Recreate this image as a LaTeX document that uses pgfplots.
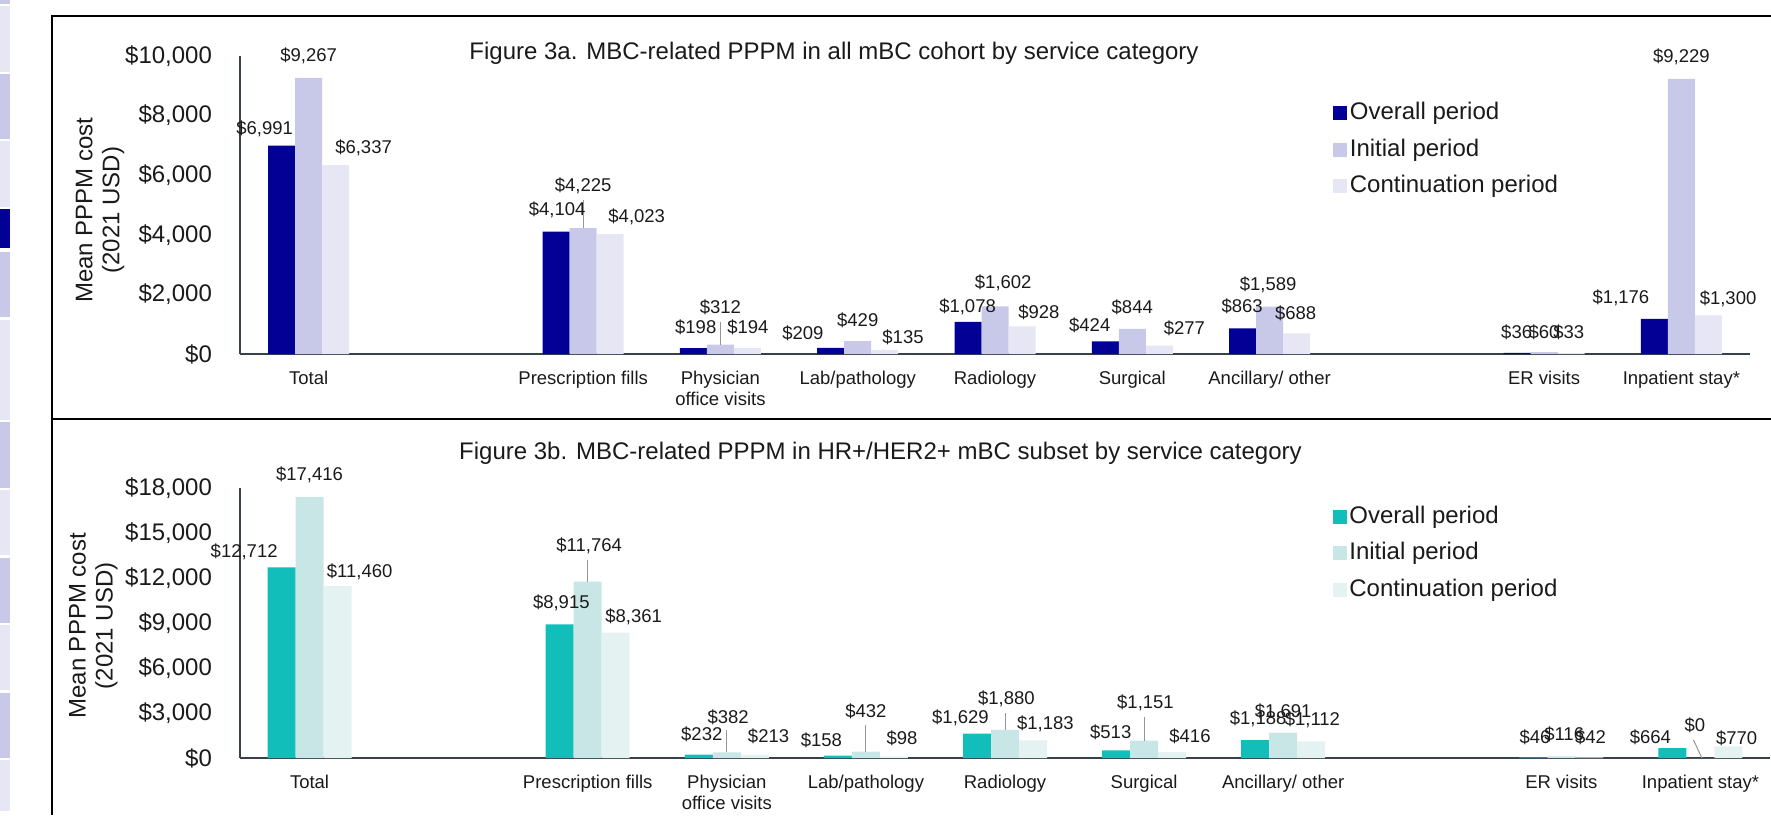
\documentclass[border=0pt]{standalone}
\usepackage{fontspec}
\setmainfont{Liberation Sans}
\usepackage{pgfplots}
\usepackage{pgfplotstable}
\pgfplotsset{compat=1.18}

\definecolor{navy}{RGB}{3,0,150}
\definecolor{lav}{RGB}{200,201,233}
\definecolor{lavl}{RGB}{230,230,245}
\definecolor{teal1}{RGB}{18,190,185}
\definecolor{teal2}{RGB}{201,230,230}
\definecolor{teal3}{RGB}{229,242,242}
\definecolor{axisc}{RGB}{55,65,75}
\definecolor{leadc}{RGB}{150,150,150}
\definecolor{txt}{RGB}{26,26,26}

% all mBC cohort
\pgfplotstableread{
x  overall initial cont
0  6991    9267    6337
2  4104    4225    4023
3  198     312     194
4  209     429     135
5  1078    1602    928
6  424     844     277
7  863     1589    688
9  36      60      33
10 1176    9229    1300
}\tblall

% HR+/HER2+ subset
\pgfplotstableread{
x  overall initial cont
0  12712   17416   11460
2  8915    11764   8361
3  232     382     213
4  158     432     98
5  1629    1880    1183
6  513     1151    416
7  1188    1691    1112
9  46      116     42
10 664     0       770
}\tblher

\tikzset{
  lbl/.style={font=\fontsize{9.25}{11}\selectfont, inner sep=0pt, text=txt},
  lead/.style={draw=leadc, line width=0.5pt},
}

\pgfplotsset{
  costaxis/.style={
    scale only axis, anchor=south west, clip=false,
    xmin=-0.5, xmax=10.5, ymin=0,
    ybar=0pt,
    axis x line*=bottom, axis y line*=left,
    axis line style={-},
    x axis line style={draw=axisc, line width=1.1pt},
    y axis line style={draw=axisc, line width=0.6pt},
    major tick length=0pt,
    scaled y ticks=false,
    xtick={0,2,3,4,5,6,7,9,10},
    xticklabels={Total, Prescription fills, {Physician\\office visits}, Lab/pathology, Radiology, Surgical, Ancillary/ other, ER visits, Inpatient stay*},
    xticklabel style={font=\fontsize{9.25}{10.5}\selectfont, align=center, yshift=-5pt, text=txt},
    yticklabel style={font=\fontsize{12}{14}\selectfont, xshift=-10.5pt, text=txt},
    ylabel={Mean PPPM cost\\(2021 USD)},
    ylabel style={font=\fontsize{12}{13.5}\selectfont, align=center, anchor=center, text=txt},
    legend cell align=left,
    legend image code/.code={\draw[##1,draw=none] (0pt,-3.5pt) rectangle (7pt,3.5pt);},
    legend style={draw=none, fill=none, anchor=north west, inner sep=0pt,
      font=\fontsize{12}{14}\selectfont, text=txt, row sep=4.25pt,
      nodes={inner sep=1.25pt, text height=9pt, text depth=2.5pt},
      /tikz/every odd column/.style={column sep=0pt}},
  },
}

\begin{document}
\begin{tikzpicture}
\useasboundingbox (0,0) rectangle (885.5pt,407.5pt);

% slide strip at the left edge
\begin{scope}[shift={(0,407.5pt)}, x=0.5pt, y=-0.5pt]
\fill[lav]  (0,0)   rectangle (10,4);
\fill[lavl] (0,6)   rectangle (10,72);
\fill[lav]  (0,74)  rectangle (10,139);
\fill[lavl] (0,141) rectangle (10,207);
\fill[navy] (0,209) rectangle (10,248);
\fill[lav]  (0,252) rectangle (10,317);
\fill[lavl] (0,320) rectangle (10,420);
\fill[lav]  (0,422) rectangle (10,488);
\fill[lavl] (0,490) rectangle (10,555);
\fill[lav]  (0,558) rectangle (10,623);
\fill[lavl] (0,625) rectangle (10,690);
\fill[lav]  (0,693) rectangle (10,758);
\fill[lavl] (0,760) rectangle (10,811);
\end{scope}

% frame
\draw[line width=1pt] (885.5pt,399.5pt) -- (26pt,399.5pt) -- (26pt,0pt);
\draw[line width=1pt] (26pt,198pt) -- (885.5pt,198pt);

% Figure 3a
\begin{axis}[costaxis,
  at={(120pt,230.5pt)}, width=755pt, height=149pt,
  ymax=10000, bar width=13.5pt,
  ytick={0,2000,4000,6000,8000,10000},
  yticklabels={{\$0},{\$2,000},{\$4,000},{\$6,000},{\$8,000},{\$10,000}},
  ylabel style={at={(axis description cs:-0.0927,0.483)}},
  legend style={at={(0.7238,0.857)}},
]
\addplot[fill=navy, draw=none] table[x=x, y=overall] {\tblall};
\addplot[fill=lav,  draw=none] table[x=x, y=initial] {\tblall};
\addplot[fill=lavl, draw=none] table[x=x, y=cont]    {\tblall};
\addlegendentry{Overall period}
\addlegendentry{Initial period}
\addlegendentry{Continuation period}

\draw[lead] (axis cs:2,5168) -- (axis cs:2,4225);
\draw[lead] (axis cs:3,1074) -- (axis cs:3,312);
\node[lbl] at (axis cs:-0.32,7550) {\$6,991};
\node[lbl] at (axis cs:0,10000) {\$9,267};
\node[lbl] at (axis cs:0.40,6913) {\$6,337};
\node[lbl] at (axis cs:1.81,4833) {\$4,104};
\node[lbl] at (axis cs:2.0,5638) {\$4,225};
\node[lbl] at (axis cs:2.39,4598) {\$4,023};
\node[lbl] at (axis cs:2.82,906) {\$198};
\node[lbl] at (axis cs:3.0,1577) {\$312};
\node[lbl] at (axis cs:3.20,906) {\$194};
\node[lbl] at (axis cs:3.60,705) {\$209};
\node[lbl] at (axis cs:4.00,1141) {\$429};
\node[lbl] at (axis cs:4.33,570) {\$135};
\node[lbl] at (axis cs:4.80,1577) {\$1,078};
\node[lbl] at (axis cs:5.06,2383) {\$1,602};
\node[lbl] at (axis cs:5.32,1410) {\$928};
\node[lbl] at (axis cs:5.69,973) {\$424};
\node[lbl] at (axis cs:6.0,1577) {\$844};
\node[lbl] at (axis cs:6.38,873) {\$277};
\node[lbl] at (axis cs:6.80,1611) {\$863};
\node[lbl] at (axis cs:6.99,2316) {\$1,589};
\node[lbl] at (axis cs:7.19,1376) {\$688};
\node[lbl] at (axis cs:8.80,738) {\$36};
\node[lbl] at (axis cs:9.0,738) {\$60};
\node[lbl] at (axis cs:9.18,738) {\$33};
\node[lbl] at (axis cs:9.56,1879) {\$1,176};
\node[lbl] at (axis cs:10.0,9967) {\$9,229};
\node[lbl] at (axis cs:10.34,1846) {\$1,300};
\end{axis}

% Figure 3b
\begin{axis}[costaxis,
  at={(120pt,28.5pt)}, width=765pt, height=135pt,
  ymax=18000, bar width=14pt,
  ytick={0,3000,6000,9000,12000,15000,18000},
  yticklabels={{\$0},{\$3,000},{\$6,000},{\$9,000},{\$12,000},{\$15,000},{\$18,000}},
  ylabel style={at={(axis description cs:-0.0958,0.489)}},
  legend style={at={(0.714,0.946)}},
]
\addplot[fill=teal1, draw=none] table[x=x, y=overall] {\tblher};
\addplot[fill=teal2, draw=none] table[x=x, y=initial] {\tblher};
\addplot[fill=teal3, draw=none] table[x=x, y=cont]    {\tblher};
\addlegendentry{Overall period}
\addlegendentry{Initial period}
\addlegendentry{Continuation period}

\draw[lead] (axis cs:2,13200) -- (axis cs:2,11764);
\draw[lead] (axis cs:3,1867) -- (axis cs:3,382);
\draw[lead] (axis cs:4,2200) -- (axis cs:4,432);
\draw[lead] (axis cs:5,3000) -- (axis cs:5,1880);
\draw[lead] (axis cs:6,2733) -- (axis cs:6,1151);
\draw[lead] (axis cs:9.95,1200) -- (axis cs:10.01,0);
\node[lbl] at (axis cs:-0.47,13733) {\$12,712};
\node[lbl] at (axis cs:0,18867) {\$17,416};
\node[lbl] at (axis cs:0.36,12400) {\$11,460};
\node[lbl] at (axis cs:1.81,10333) {\$8,915};
\node[lbl] at (axis cs:2.01,14133) {\$11,764};
\node[lbl] at (axis cs:2.33,9400) {\$8,361};
\node[lbl] at (axis cs:2.82,1600) {\$232};
\node[lbl] at (axis cs:3.01,2733) {\$382};
\node[lbl] at (axis cs:3.30,1467) {\$213};
\node[lbl] at (axis cs:3.68,1200) {\$158};
\node[lbl] at (axis cs:4.00,3133) {\$432};
\node[lbl] at (axis cs:4.26,1333) {\$98};
\node[lbl] at (axis cs:4.68,2667) {\$1,629};
\node[lbl] at (axis cs:5.01,3933) {\$1,880};
\node[lbl] at (axis cs:5.29,2267) {\$1,183};
\node[lbl] at (axis cs:5.76,1733) {\$513};
\node[lbl] at (axis cs:6.01,3667) {\$1,151};
\node[lbl] at (axis cs:6.33,1467) {\$416};
\node[lbl] at (axis cs:6.82,2600) {\$1,188};
\node[lbl] at (axis cs:7.00,3067) {\$1,691};
\node[lbl] at (axis cs:7.21,2533) {\$1,112};
\node[lbl] at (axis cs:8.81,1400) {\$46};
\node[lbl] at (axis cs:9.02,1600) {\$116};
\node[lbl] at (axis cs:9.21,1400) {\$42};
\node[lbl] at (axis cs:9.64,1400) {\$664};
\node[lbl] at (axis cs:9.96,2200) {\$0};
\node[lbl] at (axis cs:10.26,1333) {\$770};
\end{axis}

\node[font=\fontsize{12}{14}\selectfont, text=txt] at (417pt,381pt)
  {Figure 3a. MBC-related PPPM in all mBC cohort by service category};
\node[font=\fontsize{12}{14}\selectfont, text=txt] at (440.25pt,181pt)
  {Figure 3b. MBC-related PPPM in HR+/HER2+ mBC subset by service category};
\end{tikzpicture}
\end{document}
